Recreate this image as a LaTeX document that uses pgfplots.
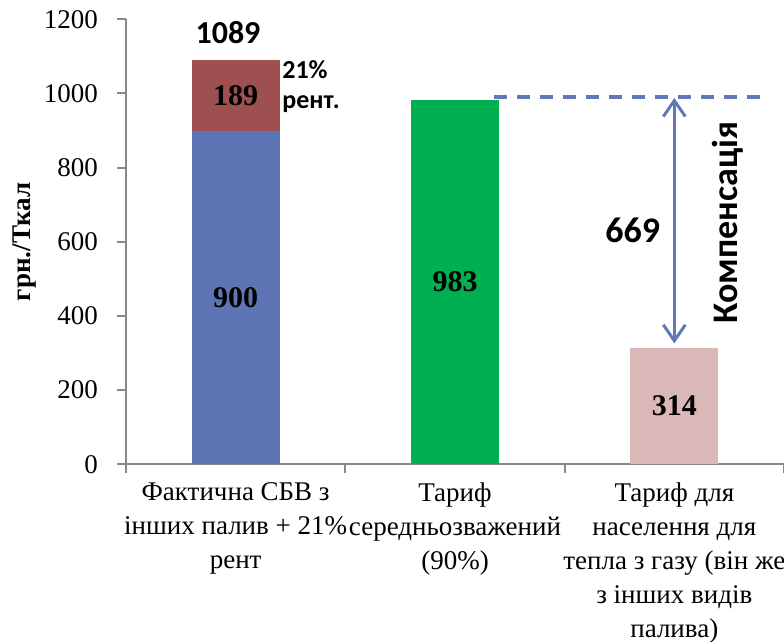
\documentclass[border=0pt]{standalone}
\usepackage{fontspec}
\setmainfont{Liberation Serif}
\newfontfamily\calibri{Carlito}
\usepackage{pgfplots}
\pgfplotsset{compat=1.18}
\usetikzlibrary{arrows.meta}
\definecolor{cblue}{RGB}{94,117,181}
\definecolor{cred}{RGB}{158,80,80}
\definecolor{cgreen}{RGB}{0,176,80}
\definecolor{cpink}{RGB}{217,184,183}
\definecolor{cline}{RGB}{98,118,186}
\definecolor{axisgray}{RGB}{137,137,137}
\begin{document}
\begin{tikzpicture}
\begin{axis}[name=ax, scale only axis, width=329pt, height=222.5pt,
  xmin=-0.5, xmax=2.5, ymin=0, ymax=1200,
  axis lines=left, axis line style={-, draw=axisgray, line width=1pt},
  tick align=outside, major tick length=4.5pt,
  tick style={draw=axisgray, line width=1pt},
  ytick={0,200,...,1200},
  xtick={-0.5,0.5,1.5,2.5}, xticklabels={},
  extra x ticks={0,1,2},
  extra x tick labels={{Фактична СБВ з\\інших палив + 21\%\\рент},{Тариф\\середньозважений\\(90\%)},{Тариф для\\населення для\\тепла з газу (він же\\з інших видів\\палива)}},
  extra x tick style={major tick length=0pt, tick style={draw=none}},
  /pgf/number format/assume math mode=true,
  /pgf/number format/1000 sep={},
  y tick label style={font=\fontsize{13.5}{15}\selectfont, xshift=-6pt},
  x tick label style={font=\fontsize{13.5}{17}\selectfont, align=center, yshift=-5.5pt},
  every axis y label/.style={at={(axis description cs:-0.155,0.5)}, rotate=90, anchor=center},
  ylabel={\fontsize{13.5}{15}\selectfont\bfseries грн./Ткал},
  bar width=0.4, clip=false,
]
\addplot[ybar, bar shift=0pt, fill=cred, draw=none] coordinates {(0,1089)};
\addplot[ybar, bar shift=0pt, fill=cblue, draw=none] coordinates {(0,900)};
\addplot[ybar, bar shift=0pt, fill=cgreen, draw=none] coordinates {(1,983)};
\addplot[ybar, bar shift=0pt, fill=cpink, draw=none] coordinates {(2,314)};
\addplot[cline, line width=2pt, dash pattern=on 6.5pt off 5pt] coordinates {(1.18,990) (2.4,990)};
\addplot[cline, line width=1.5pt, {Straight Barb[length=8pt,width=11pt]}-{Straight Barb[length=8pt,width=11pt]}] coordinates {(2,326) (2,988)};
\node[font=\fontsize{15}{17}\selectfont\bfseries] at (axis cs:0,450) {900};
\node[font=\fontsize{15}{17}\selectfont\bfseries] at (axis cs:0,994.5) {189};
\node[font=\fontsize{15}{17}\selectfont\bfseries] at (axis cs:1,491.5) {983};
\node[font=\fontsize{15}{17}\selectfont\bfseries] at (axis cs:2,157) {314};
\node[font=\calibri\fontsize{16}{18}\selectfont\bfseries] at (axis cs:-0.035,1163) {1089};
\node[font=\calibri\fontsize{13}{15}\selectfont\bfseries, anchor=west, align=left, inner sep=0pt] at (axis cs:0.211,1018) {21\%\\рент.};
\node[font=\calibri\fontsize{18}{20}\selectfont\bfseries] at (axis cs:1.81,630) {669};
\node[font=\calibri\fontsize{18}{20}\selectfont\bfseries, rotate=90] at (axis cs:2.245,652) {Компенсація};
\end{axis}
\pgfresetboundingbox
\path ([xshift=-63pt,yshift=-88.5pt]ax.south west) rectangle ([yshift=9.65pt]ax.north east);
\end{tikzpicture}
\end{document}
